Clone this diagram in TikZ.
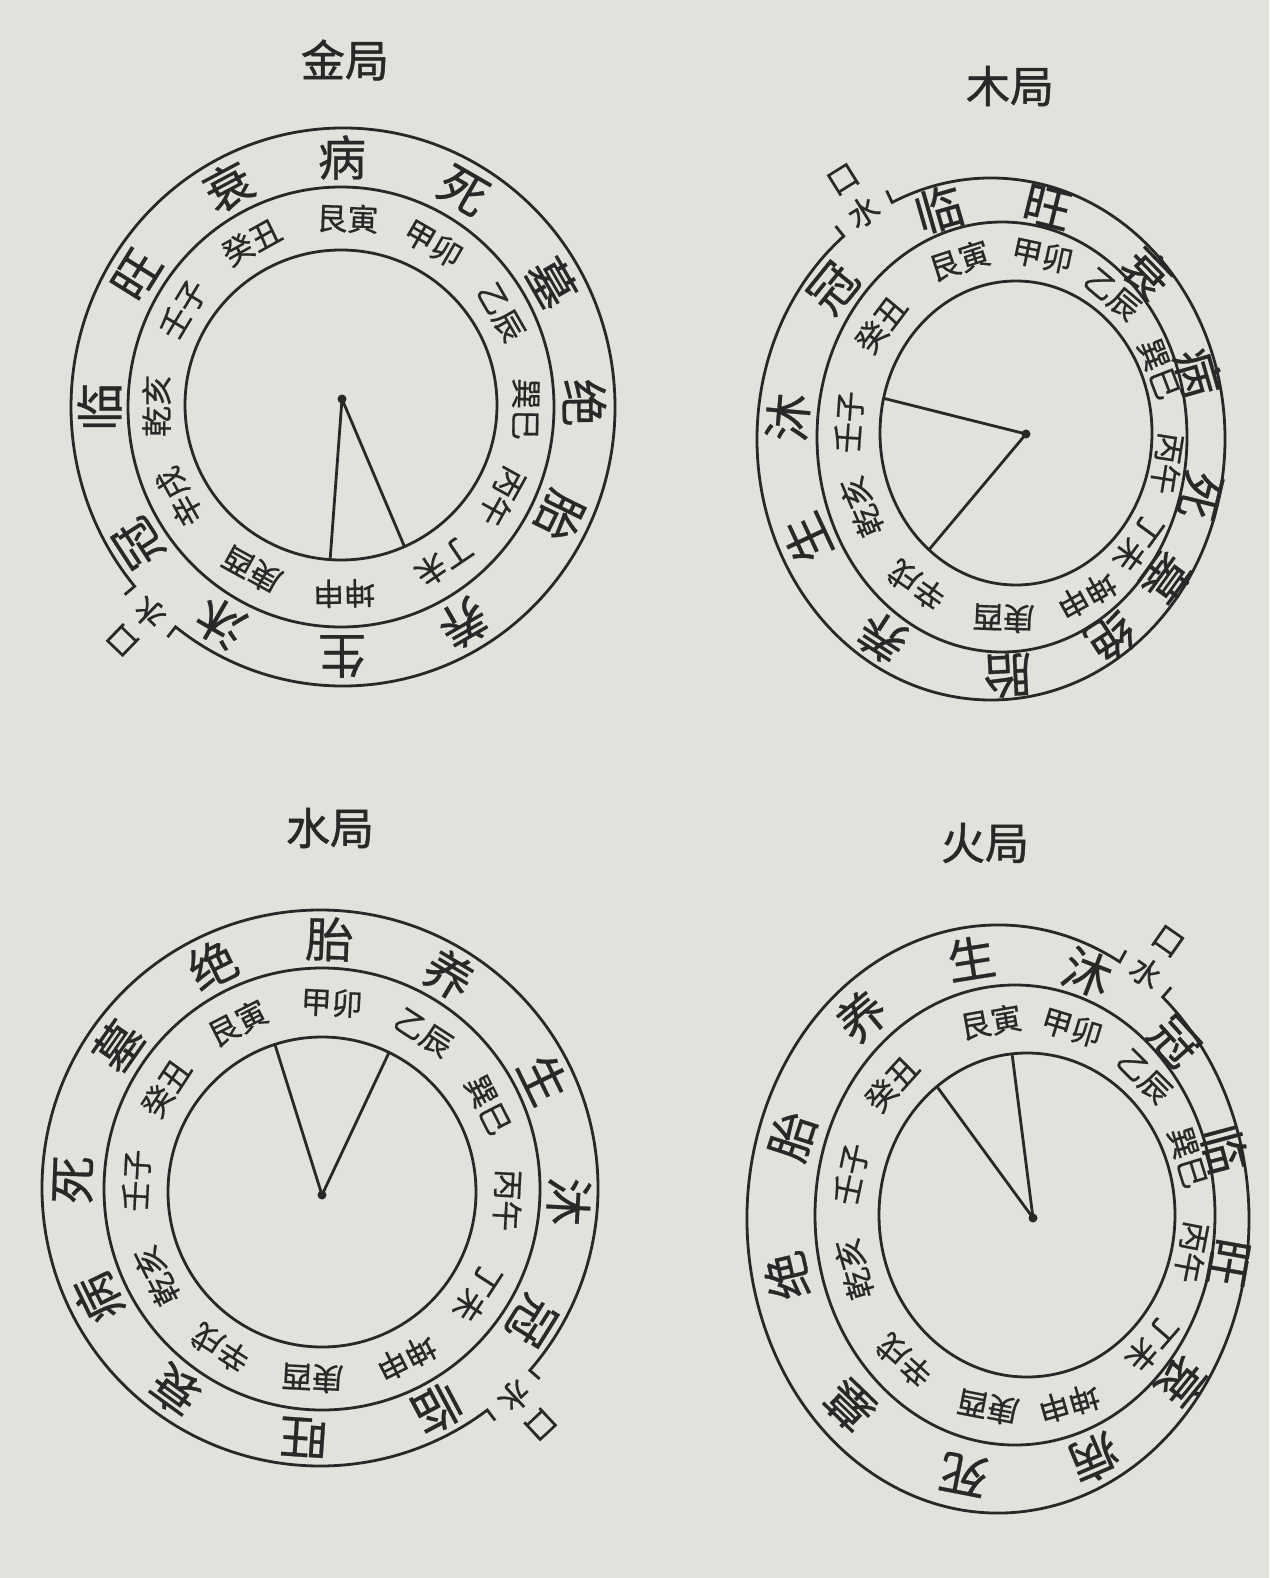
\documentclass[tikz,border=0pt]{standalone}
\usepackage{fontspec}
\setmainfont{Noto Sans CJK SC}
\newfontfamily\cjk{Noto Sans CJK SC}[FakeBold=0.6]
\newfontfamily\cjkt{Noto Sans CJK SC}[FakeBold=1.2]
\definecolor{paper}{RGB}{225,226,220}
\definecolor{ink}{RGB}{40,40,40}
\tikzset{
  ring/.style={draw=ink, line width=2.8pt},
  stagechar/.style={text=ink, font=\cjk\fontsize{48}{48}\selectfont, inner sep=0pt},
  pairchar/.style={text=ink, font=\cjk\fontsize{31}{31}\selectfont, inner sep=0pt},
  mouthchar/.style={text=ink, font=\cjk\fontsize{31}{31}\selectfont, inner sep=0pt},
  titlechar/.style={text=ink, font=\cjkt\fontsize{44}{44}\selectfont, inner sep=0pt},
  pointer/.style={draw=ink, line width=2.8pt},
  hub/.style={circle, fill=ink, inner sep=0pt, minimum size=9pt},
}
% #1 name, #2 pairs (text/angle), #3 stages (text/angle)
\newcommand\drawju[3]{%
  \draw[ring] (\icx,\icy) ellipse [x radius=\irx, y radius=\iry];
  \draw[ring] (\mcx,\mcy) ellipse [x radius=\mrx, y radius=\mry];
  \pgfmathsetmacro\wa{\w+\g}%
  \pgfmathsetmacro\wb{\w-\g+360}%
  \draw[ring] ({\ocx+(\orx+13)*cos(\wa)},{\ocy+(\ory+13)*sin(\wa)}) --
    ({\ocx+\orx*cos(\wa)},{\ocy+\ory*sin(\wa)})
    arc[start angle=\wa, end angle=\wb, x radius=\orx, y radius=\ory] --
    ({\ocx+(\orx+13)*cos(\wb)},{\ocy+(\ory+13)*sin(\wb)});
  \pgfmathsetmacro\pcx{(\mcx+\icx)/2}%
  \pgfmathsetmacro\pcy{(\mcy+\icy)/2}%
  \pgfmathsetmacro\prx{(\mrx+\irx)/2}%
  \pgfmathsetmacro\pry{(\mry+\iry)/2}%
  \foreach \pr/\a [count=\i from 0] in {#2}{
    \node[pairchar, rotate=\a-90] (#1-p\i) at ({\pcx+\prx*cos(\a)},{\pcy+\pry*sin(\a)}) {\pr};
  }
  \pgfmathsetmacro\scx{(\mcx+\ocx)/2}%
  \pgfmathsetmacro\scy{(\mcy+\ocy)/2}%
  \pgfmathsetmacro\srx{(\mrx+\orx)/2}%
  \pgfmathsetmacro\sry{(\mry+\ory)/2}%
  \foreach \stg/\a [count=\i from 0] in {#3}{
    \node[stagechar, rotate=\a-90] (#1-s\i) at ({\scx+\srx*cos(\a)},{\scy+\sry*sin(\a)}) {\stg};
  }
  \node[mouthchar, rotate=\w-90] (#1-shui) at ({\ocx+(\orx+7)*cos(\w)},{\ocy+(\ory+7)*sin(\w)}) {水};
  \node[mouthchar, rotate=\w-90] (#1-kou) at ({\ocx+(\orx+45)*cos(\w)},{\ocy+(\ory+45)*sin(\w)}) {口};
  \node[hub] (#1-hub) at (\hx,\hy) {};
  \coordinate (#1-e1) at ({\icx+\irx*cos(\ea)},{\icy+\iry*sin(\ea)});
  \coordinate (#1-e2) at ({\icx+\irx*cos(\eb)},{\icy+\iry*sin(\eb)});
  \draw[pointer] (#1-hub.center) -- (#1-e1);
  \draw[pointer] (#1-hub.center) -- (#1-e2);
}
\begin{document}
\begin{tikzpicture}[x=1pt,y=1pt]
\fill[paper] (0,0) rectangle (1269,-1578);
\useasboundingbox (0,0) rectangle (1269,-1578);

% titles
\node[titlechar] (t1) at (345,-60) {金局};
\node[titlechar] (t2) at (1010,-86) {木局};
\node[titlechar] (t3) at (330,-828) {水局};
\node[titlechar] (t4) at (985,-843) {火局};

% 金局
\def\ocx{343}\def\ocy{-407}\def\orx{272}\def\ory{279}
\def\mcx{341}\def\mcy{-407}\def\mrx{213}\def\mry{220}
\def\icx{341}\def\icy{-405}\def\irx{156}\def\iry{155}
\def\w{-134}\def\g{6}
\def\hx{342}\def\hy{-399}\def\ea{-94}\def\eb{-66}
\drawju{jin}
  {艮寅/88,甲卯/60,乙辰/30,巽巳/-1,丙午/-29,丁未/-56,坤申/-89,庚酉/-119,辛戌/-151,乾亥/180,壬子/149,癸丑/119}
  {病/90,死/60,墓/30,绝/1,胎/-26,养/-60,生/-90,沐/-120,冠/-147,临/180,旺/148,衰/118}

% 木局
\def\ocx{991}\def\ocy{-439}\def\orx{234}\def\ory{261}
\def\mcx{1002}\def\mcy{-437}\def\mrx{185}\def\mry{215}
\def\icx{1016}\def\icy{-433}\def\irx{136}\def\iry{152}
\def\w{122}\def\g{7}
\def\hx{1026}\def\hy{-434}\def\ea{166.8}\def\eb{-129.8}
\drawju{mu}
  {艮寅/108,甲卯/78,乙辰/50,巽巳/21,丙午/-9,丁未/-36,坤申/-61,庚酉/-92,辛戌/-125,乾亥/-157,壬子/176,癸丑/143}
  {临/106,旺/76,衰/44,病/16,死/-14,墓/-36,绝/-57,胎/-87,养/-123,生/-155,沐/175,冠/141}

% 水局
\def\ocx{320}\def\ocy{-1188}\def\orx{278}\def\ory{278}
\def\mcx{322}\def\mcy{-1189}\def\mrx{218}\def\mry{221}
\def\icx{322}\def\icy{-1192}\def\irx{154}\def\iry{155}
\def\w{-47}\def\g{6}
\def\hx{322}\def\hy{-1195}\def\ea{107.8}\def\eb{64.2}
\drawju{shui}
  {艮寅/117,甲卯/87,乙辰/57,巽巳/27,丙午/-3,丁未/-33,坤申/-63,庚酉/-93,辛戌/-123,乾亥/-153,壬子/177,癸丑/147}
  {绝/116,胎/88,养/59,生/26,沐/-3,冠/-32,临/-62,旺/-94,衰/-126,病/-154,死/178,墓/145}

% 火局
\def\ocx{998}\def\ocy{-1219}\def\orx{251}\def\ory{294}
\def\mcx{1015}\def\mcy{-1215}\def\mrx{200}\def\mry{230}
\def\icx{1027}\def\icy{-1215}\def\irx{148}\def\iry{162}
\def\w{55}\def\g{6}
\def\hx{1033}\def\hy{-1218}\def\ea{127.5}\def\eb{95.8}
\drawju{huo}
  {艮寅/100,甲卯/73,乙辰/45,巽巳/17,丙午/-11,丁未/-41,坤申/-74,庚酉/-101,辛戌/-132,乾亥/-164,壬子/168,癸丑/138}
  {生/99,沐/69,冠/42,临/15,旺/-10,衰/-39,病/-67,死/-101,墓/-134,绝/-167,胎/162,养/130}
\end{tikzpicture}
\end{document}
